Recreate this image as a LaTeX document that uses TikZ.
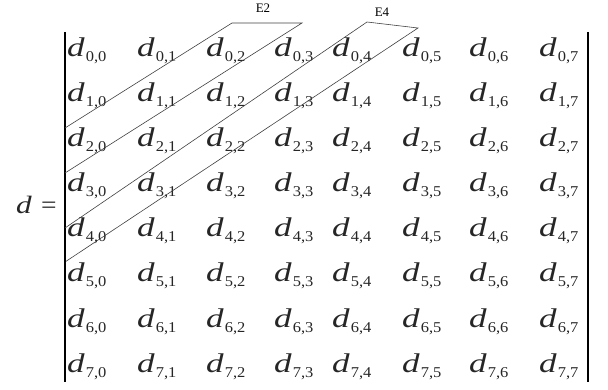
\documentclass[tikz,border=0pt]{standalone}
\usepackage{fontspec}
\setmainfont{Liberation Serif}
\newcommand{\widedee}{\scalebox{1.3}[1]{\textit{d}}}
\begin{document}
\begin{tikzpicture}[x=1pt,y=-1pt,
  entry/.style={inner sep=0pt, anchor=base west, text=black!85, font=\fontsize{27}{27}\selectfont},
  band/.style={line width=0.6pt, black!75},
  bar/.style={line width=1.3pt},
  lbl/.style={font=\fontsize{13}{13}\selectfont, inner sep=0pt}]
\useasboundingbox (0,0) rectangle (608,390);
\def\colx{{67,137,206,274,332,402,469,539}}
\foreach \r in {0,...,7}{
  \foreach \c in {0,...,7}{
    \pgfmathsetmacro{\xx}{\colx[\c]}
    \pgfmathsetmacro{\yy}{57+45*\r}
    \node[entry] (d-\r-\c) at (\xx,\yy) {\widedee\hspace{1pt}\raisebox{-5pt}{\fontsize{15}{15}\selectfont\scalebox{1.1}[1]{\r,\c}}};
  }}
\node[anchor=base west, inner sep=0pt, text=black!85, font=\fontsize{25}{25}\selectfont] (lhs) at (16,214) {\scalebox{1.25}[1]{\textit{d}}};
\node[anchor=base west, inner sep=0pt, text=black!85, font=\fontsize{25}{25}\selectfont] (eq) at (41,214) {\scalebox{1.1}[1]{=}};
% bars
\coordinate (lt) at (65,32);
\coordinate (lb) at (65,382);
\coordinate (rt) at (588,32);
\coordinate (rb) at (588,382);
\draw[bar] (lt) -- (lb);
\draw[bar] (rt) -- (rb);
% bands
\coordinate (e2a) at (232,23);
\coordinate (e2b) at (302,23);
\coordinate (e2c) at (65,128);
\coordinate (e2d) at (65,173);
\coordinate (e4a) at (367,22);
\coordinate (e4b) at (418,28);
\coordinate (e4c) at (65,228);
\coordinate (e4d) at (65,262);
\draw[band] (e2c) -- (e2a) -- (e2b) -- (e2d);
\draw[band] (e4c) -- (e4a) -- (e4b) -- (e4d);
\draw[line width=2.4pt] (e4c) -- (e4d);
\node[lbl] (E2) at (263,8) {E2};
\node[lbl] (E4) at (382,12) {E4};
\end{tikzpicture}
\end{document}
